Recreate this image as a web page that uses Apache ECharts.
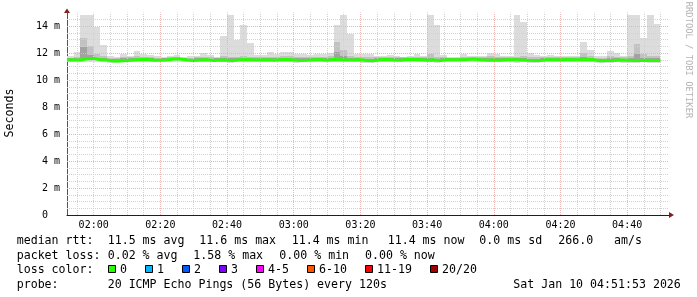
<!DOCTYPE html>
<html>
<head>
<meta charset="utf-8">
<script src="https://cdn.jsdelivr.net/npm/echarts@6/dist/echarts.min.js"></script>
<style>html,body{margin:0;padding:0;background:#fff}#c{width:697px;height:297px}</style>
</head>
<body>
<div id="c"></div>
<script>
// ---- data (ms), one value per 120 s probe slot starting 01:52 ----
const slotStartMin = 112;   // 01:52 in minutes after midnight
const slotStepMin = 2;      // probe every 120 s
const medianRtt = [
  11.48,11.48,11.58,11.60,11.50,11.48,11.40,11.40,11.44,11.48,
  11.52,11.54,11.46,11.46,11.48,11.55,11.56,11.48,11.44,11.48,
  11.50,11.45,11.48,11.46,11.44,11.50,11.52,11.48,11.48,11.50,
  11.46,11.50,11.52,11.48,11.45,11.47,11.50,11.50,11.46,11.52,
  11.50,11.48,11.48,11.50,11.44,11.42,11.50,11.52,11.48,11.46,
  11.52,11.52,11.50,11.46,11.48,11.44,11.50,11.50,11.50,11.52,
  11.55,11.50,11.46,11.48,11.46,11.50,11.50,11.48,11.46,11.45,
  11.45,11.50,11.50,11.48,11.52,11.50,11.50,11.52,11.50,11.42,
  11.44,11.44,11.48,11.46,11.44,11.44,11.46,11.44,11.44
];
const smokeMin = [
  11.32,11.32,11.34,11.36,11.32,11.32,11.26,11.26,11.30,11.32,
  11.34,11.34,11.30,11.30,11.32,11.34,11.34,11.32,11.30,11.32,
  11.32,11.30,11.32,11.30,11.26,11.32,11.34,11.32,11.32,11.32,
  11.30,11.32,11.34,11.32,11.26,11.30,11.32,11.32,11.30,11.34,
  11.32,11.30,11.32,11.32,11.28,11.26,11.32,11.34,11.30,11.30,
  11.34,11.34,11.32,11.30,11.30,11.26,11.32,11.32,11.32,11.34,
  11.36,11.32,11.30,11.30,11.30,11.32,11.32,11.28,11.30,11.28,
  11.28,11.32,11.32,11.30,11.34,11.32,11.32,11.34,11.32,11.26,
  11.28,11.28,11.30,11.26,11.24,11.28,11.30,11.28,11.28
];
const smokeInner = [
  11.60,11.62,12.45,11.85,11.65,11.62,11.55,11.55,11.60,11.60,
  11.65,11.65,11.60,11.58,11.60,11.66,11.66,11.60,11.58,11.60,
  11.62,11.58,11.60,11.62,11.60,11.62,11.64,11.62,11.60,11.62,
  11.60,11.62,11.64,11.62,11.60,11.60,11.62,11.62,11.60,11.64,
  12.10,11.75,11.62,11.62,11.58,11.56,11.62,11.64,11.60,11.60,
  11.64,11.64,11.62,11.60,11.65,11.58,11.62,11.62,11.62,11.64,
  11.66,11.62,11.60,11.62,11.60,11.62,11.62,11.64,11.62,11.58,
  11.58,11.62,11.62,11.60,11.64,11.62,11.62,11.70,11.64,11.56,
  11.58,11.60,11.60,11.58,11.62,11.90,11.62,11.60,11.60
];
const smokeMid = [
  11.66,11.70,13.10,12.50,11.90,11.75,11.64,11.62,11.70,11.68,
  11.76,11.74,11.68,11.66,11.66,11.72,11.74,11.66,11.66,11.68,
  11.74,11.68,11.66,11.80,11.72,11.74,11.76,11.72,11.70,11.72,
  11.72,11.74,11.76,11.76,11.72,11.70,11.70,11.72,11.70,11.76,
  12.85,12.20,11.76,11.72,11.70,11.68,11.70,11.70,11.70,11.68,
  11.70,11.74,11.74,11.70,11.90,11.72,11.70,11.66,11.66,11.74,
  11.74,11.68,11.68,11.76,11.72,11.70,11.70,11.74,11.80,11.72,
  11.70,11.70,11.72,11.70,11.70,11.68,11.68,12.00,11.78,11.66,
  11.66,11.80,11.74,11.70,11.76,12.70,11.90,11.80,11.76
];
const smokeMax = [
  11.75,12.10,14.80,14.80,13.95,12.60,11.75,11.70,11.90,11.80,
  12.15,11.95,11.85,11.75,11.70,11.80,11.85,11.70,11.75,11.80,
  12.00,11.85,11.70,13.25,14.80,12.95,14.05,12.75,11.85,11.85,
  12.05,11.95,12.10,12.10,11.95,11.95,11.85,11.90,11.95,12.00,
  14.05,14.80,13.40,11.90,11.95,11.90,11.80,11.75,11.85,11.80,
  11.70,11.80,11.90,11.80,14.80,14.05,11.85,11.70,11.70,11.90,
  11.80,11.75,11.75,12.00,11.90,11.80,11.80,14.80,14.30,12.00,
  11.85,11.80,11.85,11.80,11.75,11.75,11.75,12.85,12.20,11.75,
  11.75,12.15,12.00,11.80,14.80,14.80,13.10,14.80,14.15
];
const yTickLabels = {0:'0  ',2:'2 m',4:'4 m',6:'6 m',8:'8 m',10:'10 m',12:'12 m',14:'14 m'};
const lossLegend = [
  {label:'0', color:'#26ff00'},
  {label:'1', color:'#00b8ff'},
  {label:'2', color:'#0059ff'},
  {label:'3', color:'#7e00ff'},
  {label:'4-5', color:'#ff00ff'},
  {label:'6-10', color:'#ff5500'},
  {label:'11-19', color:'#ff0000'},
  {label:'20/20', color:'#a00000'}
];

// ---- build ----
const xMin = 112, xMax = 292.55;
const slotX0 = medianRtt.map((_, i) => slotStartMin + i * slotStepMin);
function band(lowArr, highArr) {
  return slotX0.map((x0, i) => [x0, x0 + slotStepMin, lowArr[i], highArr[i]]);
}
function bandSeries(data, color, z) {
  return {
    type: 'custom', z: z, silent: true, clip: true,
    encode: {x: [0, 1], y: [2, 3]},
    data: data,
    renderItem: function (params, api) {
      const a = api.coord([api.value(0), api.value(3)]);
      const b = api.coord([api.value(1), api.value(2)]);
      const x0 = Math.round(a[0]), x1 = Math.round(b[0]);
      const y0 = Math.round(a[1]), y1 = Math.round(b[1]);
      return {type: 'rect', shape: {x: x0, y: y0, width: x1 - x0, height: y1 - y0},
              style: {fill: color}};
    }
  };
}
const medLine = slotX0.map((x, i) => [x, medianRtt[i]]);
medLine.push([slotX0[slotX0.length - 1] + slotStepMin, medianRtt[medianRtt.length - 1]]);

const gridMinor = {color: '#d2d2d2', width: 1, type: [1, 1]};
const gridMajor = {color: '#ebb4b4', width: 1, type: [1, 1]};
const markLines = [];
for (let v = 115; v <= 290; v += 5) {
  const major = (v % 20 === 0) && v !== 120;
  markLines.push({xAxis: v, lineStyle: major ? gridMajor : gridMinor});
}
for (let v = 0.5; v <= 14.5; v += 0.5) {
  const major = (v % 2 === 0);
  markLines.push({yAxis: v, lineStyle: major ? gridMajor : gridMinor});
}

const mono = 'DejaVu Sans Mono';
const fs = 11.6;
function txt(x, y, s, extra) {
  return Object.assign({type: 'text', x: x, y: y, silent: true,
    style: {text: s, fontFamily: mono, fontSize: fs, fill: '#000', verticalAlign: 'middle', align: 'left'}}, extra || {});
}
const graphics = [
  {type: 'polygon', shape: {points: [[64, 13], [70, 13], [67, 8.5]]}, style: {fill: '#801f1f'}, silent: true},
  {type: 'polygon', shape: {points: [[669, 212], [669, 218], [674, 215]]}, style: {fill: '#801f1f'}, silent: true},
  {type: 'text', x: 10, y: 113, rotation: Math.PI / 2, silent: true,
   style: {text: 'Seconds', fontFamily: mono, fontSize: fs, fill: '#000', align: 'center', verticalAlign: 'middle'}},
  {type: 'text', x: 688, y: 60, rotation: -Math.PI / 2, silent: true,
   style: {text: 'RRDTOOL / TOBI OETIKER', fontFamily: mono, fontSize: 8.8, fill: '#b4b4b4', align: 'center', verticalAlign: 'middle'}},
  txt(16.7, 241, 'median rtt:'),
  txt(107.7, 241, '11.5 ms avg'),
  txt(199.3, 241, '11.6 ms max'),
  txt(291.7, 241, '11.4 ms min'),
  txt(387.7, 241, '11.4 ms now'),
  txt(479.3, 241, '0.0 ms sd'),
  txt(558.3, 241, '266.0'),
  txt(614, 241, 'am/s'),
  txt(16.7, 255.7, 'packet loss:'),
  txt(107.7, 255.7, '0.02 % avg'),
  txt(193.3, 255.7, '1.58 % max'),
  txt(279.3, 255.7, '0.00 % min'),
  txt(365, 255.7, '0.00 % now'),
  txt(16.7, 270.3, 'loss color:'),
  txt(16.7, 285, 'probe:'),
  txt(107.7, 285, '20 ICMP Echo Pings (56 Bytes) every 120s'),
  txt(513.3, 285, 'Sat Jan 10 04:51:53 2026')
];
const sqX = [108.5, 145.5, 182.5, 219.5, 256.5, 307.5, 365.5, 430.5];
lossLegend.forEach((item, i) => {
  graphics.push({type: 'rect', silent: true, shape: {x: sqX[i], y: 265.5, width: 7, height: 7},
                 style: {fill: item.color, stroke: '#000', lineWidth: 1}});
  graphics.push(txt(sqX[i] + 11.5, 270.3, item.label));
});

const chart = echarts.init(document.getElementById('c'), null, {renderer: 'canvas'});
chart.setOption({
  animation: false,
  backgroundColor: '#ffffff',
  grid: {left: 67, right: 28, top: 12.5, bottom: 82, containLabel: false},
  xAxis: {
    type: 'value', min: xMin, max: xMax, interval: 4,
    axisLine: {show: true, lineStyle: {color: '#1f1f1f', width: 1}},
    axisTick: {show: false},
    splitLine: {show: false},
    axisLabel: {
      margin: 5, color: '#000', fontFamily: mono, fontSize: 10,
      showMinLabel: true, showMaxLabel: true,
      formatter: function (v) {
        const r = Math.round(v);
        if (Math.abs(v - r) > 1e-6 || r % 20 !== 0) return '';
        const h = Math.floor(r / 60), m = r % 60;
        return String(h).padStart(2, '0') + ':' + String(m).padStart(2, '0');
      }
    }
  },
  yAxis: {
    type: 'value', min: 0, max: 15, interval: 2,
    axisLine: {show: true, lineStyle: {color: '#555', width: 1}},
    axisTick: {show: false},
    splitLine: {show: false},
    axisLabel: {
      margin: 7, color: '#000', fontFamily: mono, fontSize: 10,
      formatter: function (v) { return yTickLabels[v] !== undefined ? yTickLabels[v] : ''; }
    }
  },
  graphic: graphics,
  series: [
    bandSeries(band(smokeMin, smokeMax), '#dcdcdc', 1),
    bandSeries(band(medianRtt, smokeMid), '#c2c2c2', 2),
    bandSeries(band(medianRtt, smokeInner), '#a2a2a2', 3),
    {
      type: 'line', data: [], z: 4, silent: true, symbol: 'none',
      markLine: {silent: true, symbol: 'none', label: {show: false}, animation: false, data: markLines}
    },
    {
      type: 'line', data: medLine, step: 'end', z: 5, silent: true,
      symbol: 'none', lineStyle: {color: '#26ff00', width: 3}, itemStyle: {color: '#26ff00'},
      emphasis: {disabled: true}
    }
  ]
});
</script>
</body>
</html>
